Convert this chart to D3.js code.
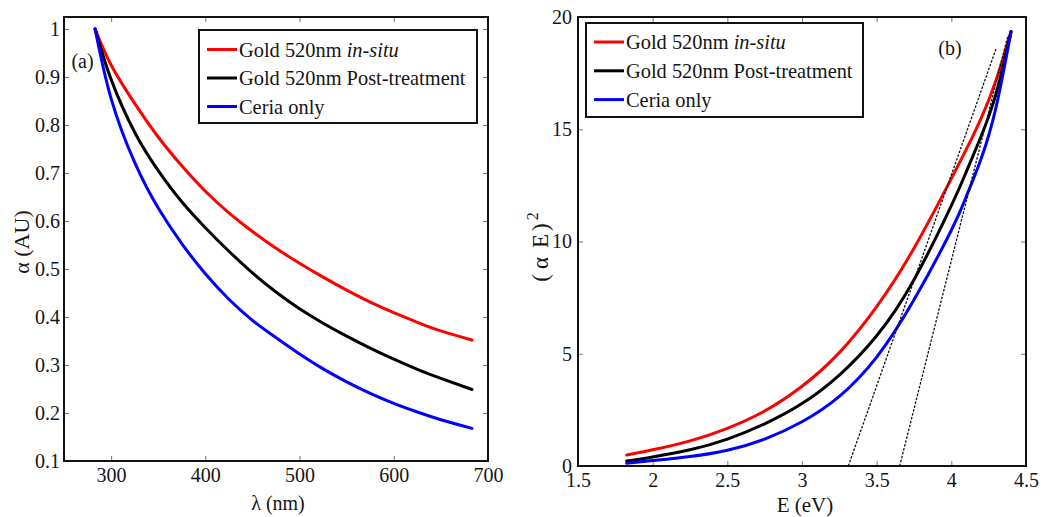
<!DOCTYPE html>
<html><head><meta charset="utf-8">
<script src="https://cdn.jsdelivr.net/npm/d3@7"></script>
<style>
body{margin:0;background:#fff;}
svg text{font-family:"Liberation Serif","Times New Roman",serif;fill:#151515;}
</style></head><body>
<svg id="c" width="1041" height="517"></svg>
<script>
// ---------- data ----------
const seriesLabels = ["Gold 520nm ", "Gold 520nm Post-treatment", "Ceria only"];
const seriesItalic = ["in-situ", "", ""];
const seriesColors = ["#ff0000", "#000000", "#0000ff"];

// panel (a): alpha vs wavelength (nm)
const lambdaNm   = [283, 300, 325, 350, 375, 400, 425, 450, 475, 500, 525, 550, 575, 600, 625, 650, 683];
const alphaRed   = [1.0, 0.925, 0.845, 0.775, 0.715, 0.662, 0.617, 0.578, 0.543, 0.512, 0.483, 0.456, 0.431, 0.409, 0.389, 0.371, 0.352];
const alphaBlack = [1.0, 0.895, 0.785, 0.705, 0.640, 0.586, 0.537, 0.492, 0.452, 0.417, 0.387, 0.360, 0.335, 0.312, 0.291, 0.272, 0.249];
const alphaBlue  = [1.0, 0.855, 0.722, 0.627, 0.553, 0.490, 0.437, 0.393, 0.357, 0.323, 0.292, 0.265, 0.241, 0.220, 0.202, 0.186, 0.168];

// panel (b): (alpha E)^2 vs E (eV)
const energyEv = [1.826, 2.0, 2.25, 2.5, 2.75, 3.0, 3.25, 3.5, 3.75, 4.0, 4.1, 4.2, 4.3, 4.4];
const aeRed    = [0.49, 0.72, 1.12, 1.68, 2.45, 3.55, 5.05, 7.1, 9.7, 12.8, 14.1, 15.5, 17.2, 19.35];
const aeBlack  = [0.22, 0.40, 0.72, 1.20, 1.88, 2.78, 4.05, 5.8, 8.3, 11.6, 13.1, 14.7, 16.6, 19.35];
const aeBlue   = [0.12, 0.24, 0.42, 0.70, 1.20, 1.97, 3.10, 4.85, 7.4, 10.5, 12.0, 13.7, 16.0, 19.35];

// tangent (dashed) lines: start E on the axis, end point
const tangentStartE = [3.31, 3.654];
const tangentEndE   = [4.30, 4.38];
const tangentEndV   = [18.6, 19.2];

// ticks
const leftXTicks  = [300, 400, 500, 600, 700];
const leftYTicks  = [0.1, 0.2, 0.3, 0.4, 0.5, 0.6, 0.7, 0.8, 0.9, 1];
const rightXTicks = [1.5, 2, 2.5, 3, 3.5, 4, 4.5];
const rightYTicks = [0, 5, 10, 15, 20];

// ---------- drawing ----------
const svg = d3.select("#c");
const zip = (xs, ys) => xs.map((x, i) => [x, ys[i]]);

function panel(cfg) {
  const g = svg.append("g");
  const x = d3.scaleLinear().domain(cfg.xDomain).range([cfg.left, cfg.right]);
  const y = d3.scaleLinear().domain(cfg.yDomain).range([cfg.bottom, cfg.top]);
  const tickCol = "#777";

  const ax = (gen, tr, ticks, labels, pad) => {
    const a = g.append("g").attr("transform", tr)
      .call(gen.tickValues(ticks).tickSize(-5).tickPadding(pad)
        .tickFormat(labels ? (d => String(d)) : ""));
    a.select(".domain").remove();
    a.selectAll("line").attr("stroke", tickCol).attr("stroke-width", 1);
    a.selectAll("text").attr("font-size", 20).attr("fill", "#151515")
      .style("font-family", '"Liberation Serif", serif');
    return a;
  };
  ax(d3.axisBottom(x), `translate(0,${cfg.bottom})`, cfg.xTicks, true, 7);
  ax(d3.axisTop(x), `translate(0,${cfg.top})`, cfg.xTicks, false, 0);
  ax(d3.axisLeft(y), `translate(${cfg.left},0)`, cfg.yTicks, true, cfg.yPad);
  ax(d3.axisRight(y), `translate(${cfg.right},0)`, cfg.yTicks, false, 0);

  const line = d3.line().x(d => x(d[0])).y(d => y(d[1])).curve(d3.curveNatural);
  cfg.series.forEach((s, i) => {
    g.append("path").datum(s).attr("d", line)
      .attr("fill", "none").attr("stroke", seriesColors[i])
      .attr("stroke-width", 3).attr("stroke-linejoin", "round").attr("stroke-linecap", "round");
  });
  (cfg.extra || (() => {}))(g, x, y);

  g.append("rect").attr("x", cfg.left).attr("y", cfg.top)
    .attr("width", cfg.right - cfg.left).attr("height", cfg.bottom - cfg.top)
    .attr("fill", "none").attr("stroke", "#111").attr("stroke-width", 2);

  // legend
  const L = cfg.legend;
  g.append("rect").attr("x", L.x).attr("y", L.y).attr("width", L.w).attr("height", L.h)
    .attr("fill", "#fff").attr("stroke", "#111").attr("stroke-width", 2);
  seriesLabels.forEach((lab, i) => {
    const yy = L.y + L.first + i * L.step;
    g.append("line").attr("x1", L.x + 8).attr("x2", L.x + 38).attr("y1", yy).attr("y2", yy)
      .attr("stroke", seriesColors[i]).attr("stroke-width", 3);
    const t = g.append("text").attr("x", L.x + 40).attr("y", yy + 7).attr("font-size", 20.4);
    t.append("tspan").text(lab);
    if (seriesItalic[i]) t.append("tspan").attr("font-style", "italic").text(seriesItalic[i]);
  });
  g.append("text").attr("x", cfg.tag[0]).attr("y", cfg.tag[1]).attr("font-size", 20)
    .attr("text-anchor", "middle").text(cfg.tag[2]);
  return {g, x, y};
}

// panel (a)
panel({
  xDomain: [250, 700], yDomain: [0.1, 1.025],
  left: 64, right: 488, top: 17, bottom: 461,
  xTicks: leftXTicks, yTicks: leftYTicks, yPad: 4,
  series: [zip(lambdaNm, alphaRed), zip(lambdaNm, alphaBlack), zip(lambdaNm, alphaBlue)],
  legend: {x: 199, y: 30, w: 278, h: 93, first: 19.5, step: 28.5},
  tag: [82.5, 68, "(a)"]
});
svg.append("text").attr("x", 278).attr("y", 510).attr("text-anchor", "middle")
  .attr("font-size", 20).text("λ (nm)");
svg.append("text").attr("transform", "translate(29,242) rotate(-90)")
  .attr("text-anchor", "middle").attr("font-size", 22).text("α (AU)");

// panel (b)
panel({
  xDomain: [1.5, 4.5], yDomain: [0, 20],
  left: 578, right: 1026, top: 17, bottom: 466,
  xTicks: rightXTicks, yTicks: rightYTicks, yPad: 6,
  series: [zip(energyEv, aeRed), zip(energyEv, aeBlack), zip(energyEv, aeBlue)],
  legend: {x: 586, y: 23, w: 277, h: 94, first: 19, step: 28.8},
  tag: [950, 55, "(b)"],
  extra: (g, x, y) => {
    tangentStartE.forEach((e0, i) => {
      g.append("line").attr("x1", x(e0)).attr("y1", y(0))
        .attr("x2", x(tangentEndE[i])).attr("y2", y(tangentEndV[i]))
        .attr("stroke", "#111").attr("stroke-width", 1.3).attr("stroke-dasharray", "2.5,1.5");
    });
  }
});
svg.append("text").attr("x", 805).attr("y", 512).attr("text-anchor", "middle")
  .attr("font-size", 21).text("E (eV)");
const yl = svg.append("text").attr("transform", "translate(548,247) rotate(-90)")
  .attr("text-anchor", "middle").attr("font-size", 23);
yl.append("tspan").text("(");
yl.append("tspan").attr("dx", 5).text("α");
yl.append("tspan").attr("dx", 9).text("E");
yl.append("tspan").attr("dx", 3).text(")");
yl.append("tspan").attr("dx", 3).attr("dy", -10).attr("font-size", 16).text("2");
</script>
</body></html>
